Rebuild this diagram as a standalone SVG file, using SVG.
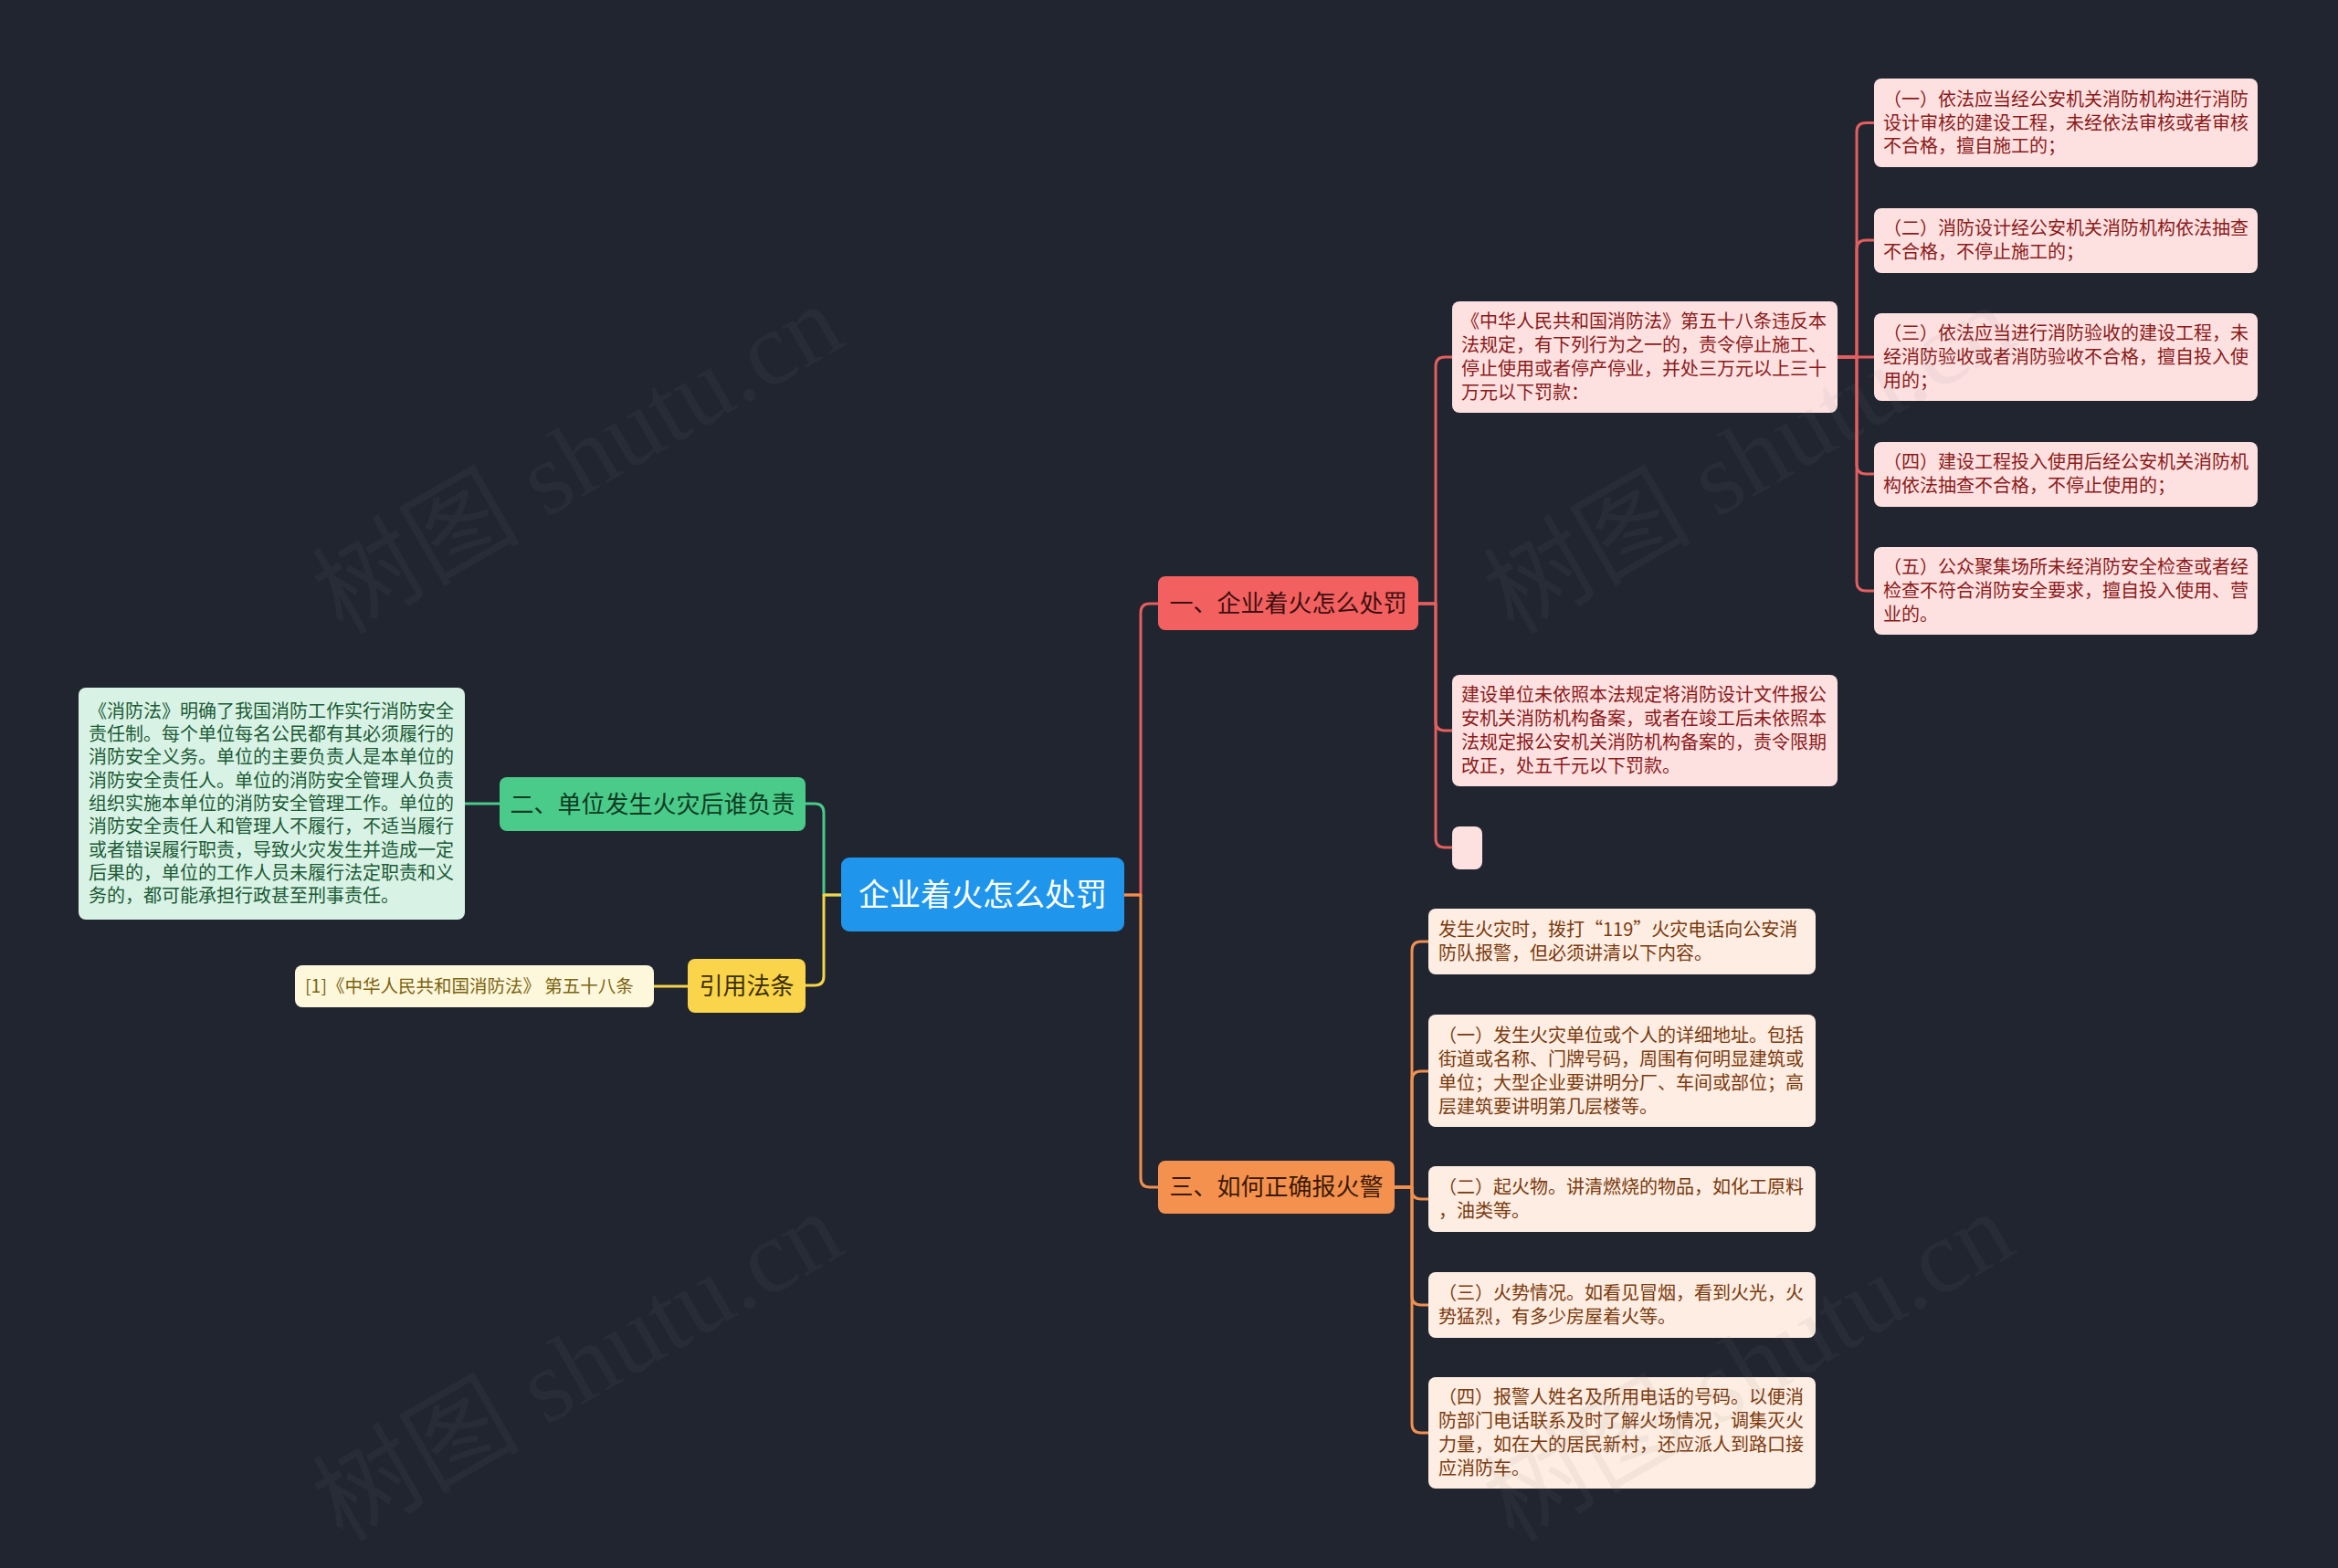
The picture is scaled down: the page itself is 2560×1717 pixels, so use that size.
<svg xmlns="http://www.w3.org/2000/svg" width="2560" height="1717" viewBox="0 0 2560 1717">
<style>
text{font-family:"Noto Sans CJK SC","Liberation Sans",sans-serif;}
.leaf{font-size:20px;}
.main{font-size:26px;}
.red{fill:#fde1e1;}
.redt{fill:#8b1a1a;}
.peach{fill:#fdede2;}
.peacht{fill:#7a3a0e;}
.c{fill:none;stroke-width:3;stroke-linecap:round;stroke-linejoin:round;}
.wm{font-family:"Liberation Serif","Noto Sans CJK SC",serif;font-size:114px;fill:#808080;fill-opacity:0.08;}
</style>
<rect width="2560" height="1717" fill="#212530"/>

<g id="connectors">
<path class="c" stroke="#e35f5f" d="M1231 980 H1249 V671 Q1249 661 1259 661 H1268"/>
<path class="c" stroke="#f0904f" d="M1231 980 H1249 V1290 Q1249 1300 1259 1300 H1268"/>
<path class="c" stroke="#4ac98a" d="M921 980 H902 V890 Q902 880 892 880 H882"/>
<path class="c" stroke="#f5d44a" d="M921 980 H902 V1069 Q902 1079 892 1079 H882"/>
<path class="c" stroke="#4ac98a" d="M547 880 H509"/>
<path class="c" stroke="#f5d44a" d="M753 1080 H716"/>
<g stroke="#e35f5f">
<path class="c" d="M1553 661 H1572 V401 Q1572 391 1582 391 H1590"/>
<path class="c" d="M1553 661 H1572 V790 Q1572 800 1582 800 H1590"/>
<path class="c" d="M1553 661 H1572 V918 Q1572 928 1582 928 H1590"/>
<path class="c" d="M2012 391 H2033 V144.5 Q2033 134.5 2043 134.5 H2052"/>
<path class="c" d="M2012 391 H2033 V273 Q2033 263 2043 263 H2052"/>
<path class="c" d="M2012 391 H2052"/>
<path class="c" d="M2012 391 H2033 V509 Q2033 519 2043 519 H2052"/>
<path class="c" d="M2012 391 H2033 V637 Q2033 647 2043 647 H2052"/>
</g>
<g stroke="#f0904f">
<path class="c" d="M1527 1300 H1546 V1041 Q1546 1031 1556 1031 H1564"/>
<path class="c" d="M1527 1300 H1546 V1183 Q1546 1173 1556 1173 H1564"/>
<path class="c" d="M1527 1300 H1546 V1303 Q1546 1313 1556 1313 H1564"/>
<path class="c" d="M1527 1300 H1546 V1419 Q1546 1429 1556 1429 H1564"/>
<path class="c" d="M1527 1300 H1546 V1559 Q1546 1569 1556 1569 H1564"/>
</g>
</g>

<g id="root">
<rect x="921" y="939" width="310" height="81" rx="9" fill="#1f96ec"/>
<text x="1076" y="992" font-size="34" fill="#ffffff" text-anchor="middle">企业着火怎么处罚</text>
</g>

<g id="n1">
<rect x="1268" y="631" width="285" height="59" rx="8" fill="#f26060"/>
<text class="main" x="1410.5" y="670" fill="#3d0f0f" text-anchor="middle">一、企业着火怎么处罚</text>
</g>

<g id="n2">
<rect x="547" y="851" width="335" height="59" rx="8" fill="#4acb8a"/>
<text class="main" x="714.5" y="890" fill="#0f3b22" text-anchor="middle">二、单位发生火灾后谁负责</text>
</g>

<g id="n3">
<rect x="1268" y="1271" width="259" height="58" rx="8" fill="#f5914f"/>
<text class="main" x="1397.5" y="1309" fill="#3b1a05" text-anchor="middle">三、如何正确报火警</text>
</g>

<g id="n4">
<rect x="753" y="1050" width="129" height="59" rx="8" fill="#fad44a"/>
<text class="main" x="817.5" y="1089" fill="#3b2f00" text-anchor="middle">引用法条</text>
</g>

<g id="leafA">
<rect class="red" x="1590" y="330" width="422" height="122" rx="8"/>
<text class="leaf redt" x="1600" y="359.45"><tspan x="1600">《中华人民共和国消防法》第五十八条违反本</tspan><tspan x="1600" dy="25.7">法规定，有下列行为之一的，责令停止施工、</tspan><tspan x="1600" dy="25.7">停止使用或者停产停业，并处三万元以上三十</tspan><tspan x="1600" dy="25.7">万元以下罚款：</tspan></text>
</g>
<g id="leafB">
<rect class="red" x="1590" y="739" width="422" height="122" rx="8"/>
<text class="leaf redt" x="1600" y="768.45"><tspan x="1600">建设单位未依照本法规定将消防设计文件报公</tspan><tspan x="1600" dy="25.7">安机关消防机构备案，或者在竣工后未依照本</tspan><tspan x="1600" dy="25.7">法规定报公安机关消防机构备案的，责令限期</tspan><tspan x="1600" dy="25.7">改正，处五千元以下罚款。</tspan></text>
</g>
<g id="leafC">
<rect class="red" x="1590" y="905" width="33" height="47" rx="8"/>
</g>

<g id="leafA1">
<rect class="red" x="2052" y="86" width="420" height="97" rx="8"/>
<text class="leaf redt" x="2062" y="115.8"><tspan x="2062">（一）依法应当经公安机关消防机构进行消防</tspan><tspan x="2062" dy="25.7">设计审核的建设工程，未经依法审核或者审核</tspan><tspan x="2062" dy="25.7">不合格，擅自施工的；</tspan></text>
</g>
<g id="leafA2">
<rect class="red" x="2052" y="228" width="420" height="71" rx="8"/>
<text class="leaf redt" x="2062" y="257.15"><tspan x="2062">（二）消防设计经公安机关消防机构依法抽查</tspan><tspan x="2062" dy="25.7">不合格，不停止施工的；</tspan></text>
</g>
<g id="leafA3">
<rect class="red" x="2052" y="343" width="420" height="96" rx="8"/>
<text class="leaf redt" x="2062" y="372.3"><tspan x="2062">（三）依法应当进行消防验收的建设工程，未</tspan><tspan x="2062" dy="25.7">经消防验收或者消防验收不合格，擅自投入使</tspan><tspan x="2062" dy="25.7">用的；</tspan></text>
</g>
<g id="leafA4">
<rect class="red" x="2052" y="484" width="420" height="71" rx="8"/>
<text class="leaf redt" x="2062" y="513.15"><tspan x="2062">（四）建设工程投入使用后经公安机关消防机</tspan><tspan x="2062" dy="25.7">构依法抽查不合格，不停止使用的；</tspan></text>
</g>
<g id="leafA5">
<rect class="red" x="2052" y="599" width="420" height="96" rx="8"/>
<text class="leaf redt" x="2062" y="628.3"><tspan x="2062">（五）公众聚集场所未经消防安全检查或者经</tspan><tspan x="2062" dy="25.7">检查不符合消防安全要求，擅自投入使用、营</tspan><tspan x="2062" dy="25.7">业的。</tspan></text>
</g>

<g id="leafB0">
<rect class="peach" x="1564" y="995" width="424" height="72" rx="8"/>
<text class="leaf peacht" x="1575" y="1025.15"><tspan x="1575">发生火灾时，拨打“119”火灾电话向公安消</tspan><tspan x="1575" dy="25.7">防队报警，但必须讲清以下内容。</tspan></text>
</g>
<g id="leafB1">
<rect class="peach" x="1564" y="1111" width="424" height="123" rx="8"/>
<text class="leaf peacht" x="1575" y="1141.45"><tspan x="1575">（一）发生火灾单位或个人的详细地址。包括</tspan><tspan x="1575" dy="25.7">街道或名称、门牌号码，周围有何明显建筑或</tspan><tspan x="1575" dy="25.7">单位；大型企业要讲明分厂、车间或部位；高</tspan><tspan x="1575" dy="25.7">层建筑要讲明第几层楼等。</tspan></text>
</g>
<g id="leafB2">
<rect class="peach" x="1564" y="1277" width="424" height="72" rx="8"/>
<text class="leaf peacht" x="1575" y="1307.15"><tspan x="1575">（二）起火物。讲清燃烧的物品，如化工原料</tspan><tspan x="1575" dy="25.7">，油类等。</tspan></text>
</g>
<g id="leafB3">
<rect class="peach" x="1564" y="1393" width="424" height="72" rx="8"/>
<text class="leaf peacht" x="1575" y="1423.15"><tspan x="1575">（三）火势情况。如看见冒烟，看到火光，火</tspan><tspan x="1575" dy="25.7">势猛烈，有多少房屋着火等。</tspan></text>
</g>
<g id="leafB4">
<rect class="peach" x="1564" y="1508" width="424" height="122" rx="8"/>
<text class="leaf peacht" x="1575" y="1537.45"><tspan x="1575">（四）报警人姓名及所用电话的号码。以便消</tspan><tspan x="1575" dy="25.7">防部门电话联系及时了解火场情况，调集灭火</tspan><tspan x="1575" dy="25.7">力量，如在大的居民新村，还应派人到路口接</tspan><tspan x="1575" dy="25.7">应消防车。</tspan></text>
</g>

<g id="leafGreen">
<rect x="86" y="753" width="423" height="254" rx="8" fill="#d8f3e5"/>
<text class="leaf" fill="#1c5a36" x="97" y="785.8"><tspan x="97">《消防法》明确了我国消防工作实行消防安全</tspan><tspan x="97" dy="25.3">责任制。每个单位每名公民都有其必须履行的</tspan><tspan x="97" dy="25.3">消防安全义务。单位的主要负责人是本单位的</tspan><tspan x="97" dy="25.3">消防安全责任人。单位的消防安全管理人负责</tspan><tspan x="97" dy="25.3">组织实施本单位的消防安全管理工作。单位的</tspan><tspan x="97" dy="25.3">消防安全责任人和管理人不履行，不适当履行</tspan><tspan x="97" dy="25.3">或者错误履行职责，导致火灾发生并造成一定</tspan><tspan x="97" dy="25.3">后果的，单位的工作人员未履行法定职责和义</tspan><tspan x="97" dy="25.3">务的，都可能承担行政甚至刑事责任。</tspan></text>
</g>

<g id="leafYellow">
<rect x="323" y="1057" width="393" height="46" rx="8" fill="#fdf7dc"/>
<text x="334" y="1087" font-size="19.5" fill="#7b6510">[1]《中华人民共和国消防法》 第五十八条</text>
</g>

<g id="watermark">
<text class="wm" x="375" y="696" transform="rotate(-30 375 696)">树图 shutu.cn</text>
<text class="wm" x="1657" y="696" transform="rotate(-30 1657 696)">树图 shutu.cn</text>
<text class="wm" x="375" y="1690" transform="rotate(-30 375 1690)">树图 shutu.cn</text>
<text class="wm" x="1657" y="1690" transform="rotate(-30 1657 1690)">树图 shutu.cn</text>
</g>
</svg>
